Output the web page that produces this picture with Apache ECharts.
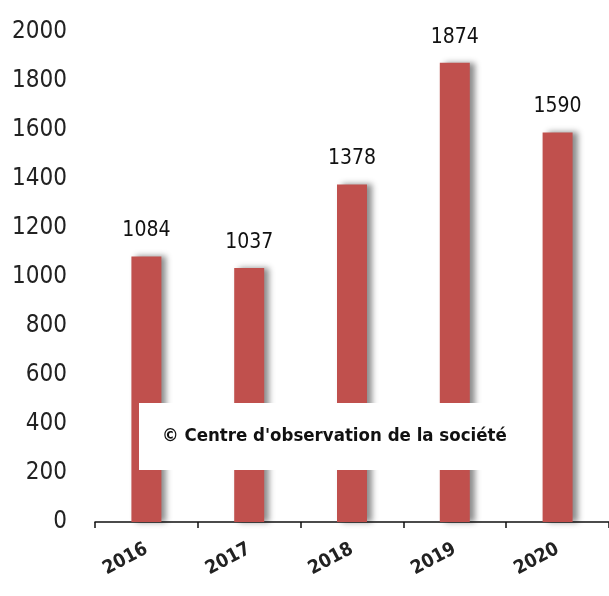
<!DOCTYPE html>
<html>
<head>
<meta charset="utf-8">
<title></title>
<style>
  html, body { margin: 0; padding: 0; background: #fff; }
  #chart { width: 609px; height: 596px; }
</style>
</head>
<body>
<div id="chart"></div>
<script src="https://cdn.jsdelivr.net/npm/echarts@6/dist/echarts.min.js"></script>
<script>
var years = ['2016', '2017', '2018', '2019', '2020'];
var values = [1084, 1037, 1378, 1874, 1590];
var yTicks = [0, 200, 400, 600, 800, 1000, 1200, 1400, 1600, 1800, 2000];

var narrow = "'DejaVu Sans Condensed', sans-serif";

var chart = echarts.init(document.getElementById('chart'));
var option = {
  animation: false,
  grid: { left: 95, top: 32, width: 520, height: 490 },
  xAxis: {
    type: 'category',
    data: years,
    axisLine: { lineStyle: { color: '#111', width: 1.5 } },
    axisTick: { show: true, length: 6, lineStyle: { color: '#111', width: 1.5 } },
    axisLabel: {
      rotate: 28,
      margin: 26,
      color: '#222',
      fontSize: 19,
      fontWeight: 'bold',
      fontFamily: narrow
    }
  },
  yAxis: {
    type: 'value',
    min: yTicks[0],
    max: yTicks[yTicks.length - 1],
    interval: 200,
    axisLine: { show: false },
    axisTick: { show: false },
    splitLine: { show: false },
    axisLabel: {
      margin: 28,
      color: '#222',
      fontSize: 24,
      fontFamily: narrow,
      formatter: function (v) { return String(v); }
    }
  },
  series: [{
    type: 'bar',
    data: values,
    barWidth: 30,
    itemStyle: {
      color: '#c0504d',
      shadowColor: 'rgba(0,0,0,0.45)',
      shadowBlur: 6,
      shadowOffsetX: 5,
      shadowOffsetY: 0
    },
    label: {
      show: true,
      position: 'top',
      distance: 15,
      color: '#111',
      fontSize: 21,
      fontFamily: narrow
    },
    z: 2
  }],
  graphic: [{
    type: 'group',
    z: 100,
    children: [{
      type: 'rect',
      shape: { x: 139, y: 403, width: 383, height: 67 },
      style: { fill: '#fff' },
      z: 100
    }, {
      type: 'text',
      x: 162,
      y: 436,
      style: {
        text: "\u00a9 Centre d'observation de la soci\u00e9t\u00e9",
        fill: '#111',
        font: "bold 18.5px " + narrow,
        verticalAlign: 'middle'
      },
      z: 101
    }]
  }]
};
chart.setOption(option);
window.onresize = function() { chart.resize(); };
</script>
</body>
</html>
